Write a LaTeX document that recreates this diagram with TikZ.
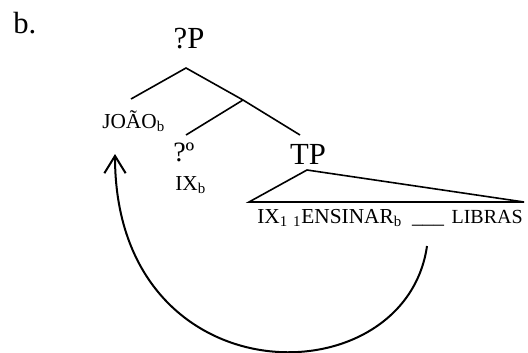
\documentclass[tikz,border=0pt]{standalone}
\usepackage{fontspec}
\setmainfont{Liberation Serif}
\usetikzlibrary{arrows.meta}
\begin{document}
\begin{tikzpicture}[x=0.75pt,y=-0.75pt,
  big/.style={font=\fontsize{23}{26}\selectfont, inner sep=0pt},
  mid/.style={font=\fontsize{21}{24}\selectfont, inner sep=0pt},
  small/.style={font=\fontsize{16}{19}\selectfont, inner sep=0pt},
  branch/.style={line width=1.2pt},
  move/.style={line width=1.5pt, -{Straight Barb[length=13pt,width=16pt]}}]
\useasboundingbox (0,0) rectangle (528,353);
% labels
\node[big, anchor=base west] (lab) at (13,34) {b.};
\node[big, anchor=base] (P) at (189,49) {?P};
\node[small, anchor=base west] (joao) at (102,128) {JOÃO\textsubscript{b}};
\node[mid, anchor=base west] (hd) at (173,161) {?º};
\node[small, anchor=base west] (ix) at (175,190) {IX\textsubscript{b}};
\node[big, anchor=base] (TP) at (308,164) {TP};
\node[small, anchor=base west] (ens) at (257,223) {IX\textsubscript{1} \textsubscript{1}ENSINAR\textsubscript{b}};
\node[small, anchor=base] (gap) at (428,223) {\_\_\_};
\node[small, font=\fontsize{15}{18}\selectfont, anchor=base east] (libras) at (523,223) {LIBRAS};
% tree points
\coordinate (Ptop) at (186,68);
\coordinate (br) at (243,100);
\coordinate (joaoTop) at (131,99);
\coordinate (hdTop) at (186,135);
\coordinate (TPtop) at (300,135);
\coordinate (triA) at (307,170);
\coordinate (triL) at (249,202);
\coordinate (triR) at (524,202);
\draw[branch] (joaoTop) -- (Ptop) -- (br) -- (TPtop);
\draw[branch] (br) -- (hdTop);
\draw[branch] (triA) -- (triL) -- (triR) -- cycle;
% movement arrow
\coordinate (mvStart) at (427,246);
\coordinate (mvEnd) at (115,154);
\draw[move] (mvStart) .. controls (405,400) and (115,400) .. (mvEnd);
\end{tikzpicture}
\end{document}
